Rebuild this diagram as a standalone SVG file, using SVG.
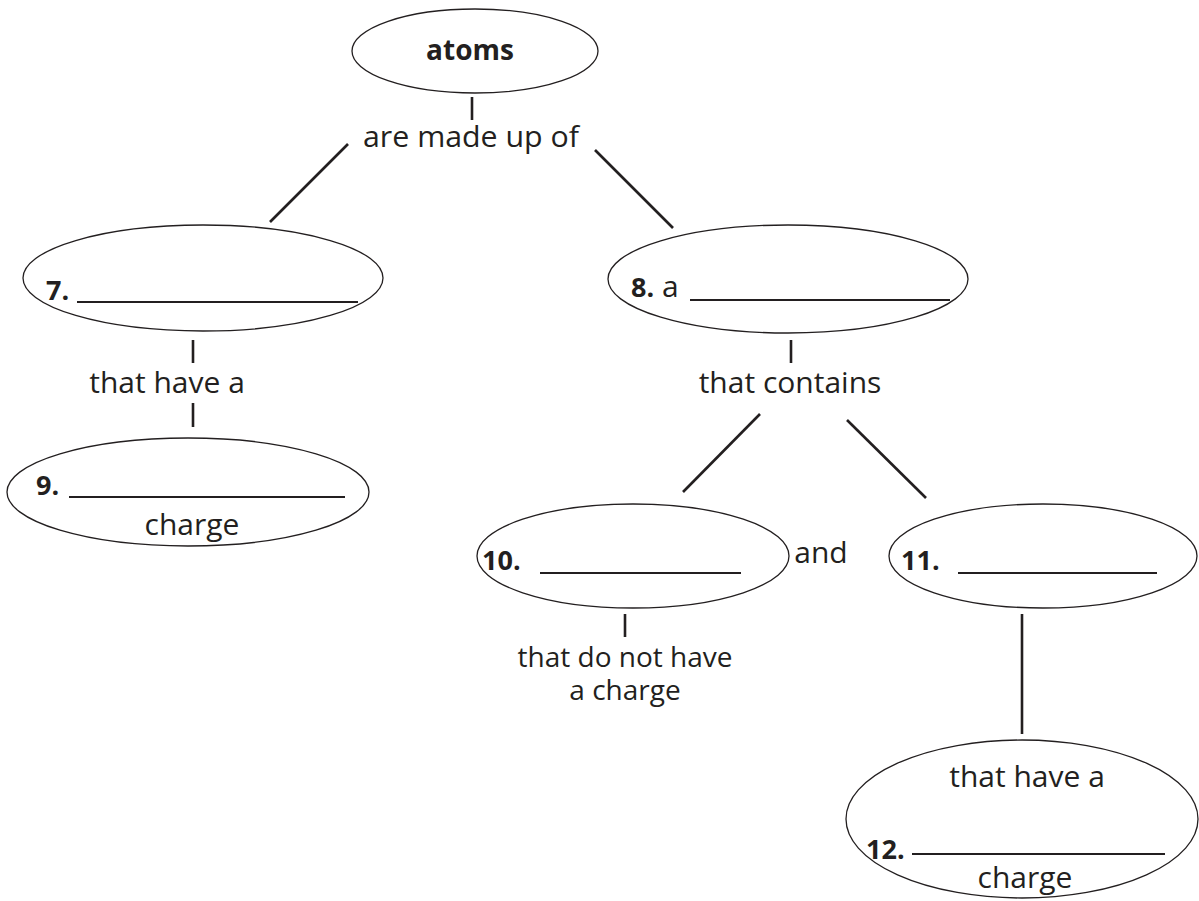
<svg xmlns="http://www.w3.org/2000/svg" width="1199" height="901" viewBox="0 0 1199 901">
<style>
  .node { fill: #ffffff; stroke: #231f20; stroke-width: 1.3; }
  .conn { stroke: #231f20; stroke-width: 2.6; fill: none; }
  .blank { stroke: #231f20; stroke-width: 2; }
  .t { font-family: "Open Sans", "Noto Sans", sans-serif; font-size: 30px; fill: #231f20; }
  .b { font-weight: bold; font-size: 27px; }
  .m { text-anchor: middle; }
</style>
<rect width="1199" height="901" fill="#ffffff"/>
<g id="connectors">
  <line class="conn" x1="472" y1="97" x2="472" y2="120"/>
  <line class="conn" x1="348" y1="144" x2="270" y2="222"/>
  <line class="conn" x1="595" y1="150" x2="673" y2="228"/>
  <line class="conn" x1="193" y1="340" x2="193" y2="363"/>
  <line class="conn" x1="193" y1="403" x2="193" y2="427"/>
  <line class="conn" x1="791" y1="340" x2="791" y2="363"/>
  <line class="conn" x1="760" y1="414" x2="683" y2="492"/>
  <line class="conn" x1="847" y1="420" x2="926" y2="498"/>
  <line class="conn" x1="625" y1="614" x2="625" y2="637"/>
  <line class="conn" x1="1022" y1="614" x2="1022" y2="734"/>
</g>
<g id="node-atoms">
  <ellipse class="node" cx="475" cy="51" rx="123" ry="42"/>
  <text class="t b m" x="470" y="60" style="font-size:28px">atoms</text>
</g>
<g id="label-made">
  <text class="t m" x="471" y="147" textLength="216" lengthAdjust="spacingAndGlyphs">are made up of</text>
</g>
<g id="node-7">
  <ellipse class="node" cx="203" cy="278" rx="180" ry="53"/>
  <text class="t b" x="46" y="300">7.</text>
  <line class="blank" x1="77" y1="302" x2="358" y2="302"/>
</g>
<g id="label-have-a">
  <text class="t m" x="167" y="393">that have a</text>
</g>
<g id="node-9">
  <ellipse class="node" cx="188" cy="492" rx="181" ry="54"/>
  <text class="t b" x="36" y="495">9.</text>
  <line class="blank" x1="69" y1="497" x2="345" y2="497"/>
  <text class="t m" x="192" y="535">charge</text>
</g>
<g id="node-8">
  <ellipse class="node" cx="788" cy="279" rx="180" ry="54"/>
  <text class="t" x="631" y="297"><tspan class="b">8.</tspan> a</text>
  <line class="blank" x1="690" y1="300" x2="950" y2="300"/>
</g>
<g id="label-contains">
  <text class="t m" x="790" y="393">that contains</text>
</g>
<g id="node-10">
  <ellipse class="node" cx="633" cy="556" rx="156" ry="52"/>
  <text class="t b" x="482" y="570">10.</text>
  <line class="blank" x1="540" y1="573" x2="741" y2="573"/>
</g>
<g id="label-and">
  <text class="t m" x="821" y="563">and</text>
</g>
<g id="node-11">
  <ellipse class="node" cx="1043" cy="556" rx="154" ry="52"/>
  <text class="t b" x="901" y="570">11.</text>
  <line class="blank" x1="958" y1="573" x2="1157" y2="573"/>
</g>
<g id="label-no-charge">
  <text class="t m" x="625" y="667" style="font-size:28px">that do not have<tspan x="625" y="700">a charge</tspan></text>
</g>
<g id="node-12">
  <ellipse class="node" cx="1022" cy="819" rx="176" ry="79"/>
  <text class="t m" x="1027" y="787">that have a</text>
  <text class="t b" x="866" y="859">12.</text>
  <line class="blank" x1="912" y1="854" x2="1165" y2="854"/>
  <text class="t m" x="1025" y="888">charge</text>
</g>
</svg>
